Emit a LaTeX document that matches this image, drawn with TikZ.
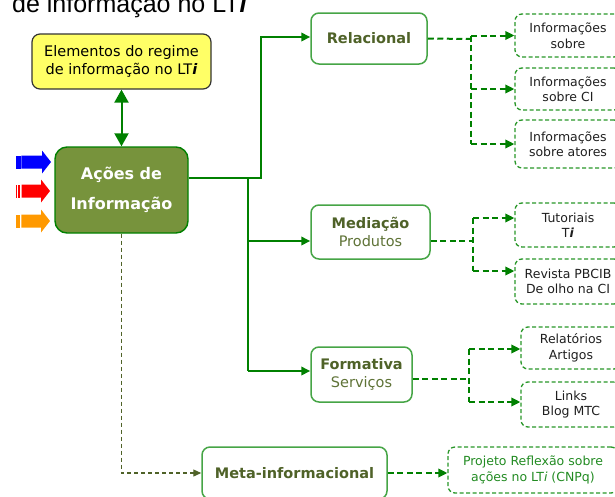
\documentclass[tikz,border=0pt]{standalone}
\usepackage{fontspec}
\setmainfont{DejaVu Sans}
\newfontfamily\titlefont{Liberation Sans}
\usetikzlibrary{arrows.meta,calc}
\definecolor{cgreen}{RGB}{0,128,0}
\definecolor{bgreen}{RGB}{70,165,70}
\definecolor{dgreen}{RGB}{40,150,40}
\definecolor{olivefill}{RGB}{119,147,60}
\definecolor{olivetext}{RGB}{79,98,40}
\definecolor{olivetext2}{RGB}{95,115,55}
\definecolor{yfill}{RGB}{255,255,102}
\definecolor{ptext}{RGB}{34,139,34}
\definecolor{arrorange}{RGB}{255,153,0}
\tikzset{
  sbox/.style={draw=bgreen, line width=1.5pt, rounded corners=8pt, fill=white, align=center,
    text=olivetext, inner sep=0pt, font=\fontsize{14.5}{18.5}\selectfont},
  dbox/.style={draw=dgreen, line width=1.3pt, dash pattern=on 4pt off 2.5pt, rounded corners=7pt,
    align=center, inner sep=0pt, text=black!88, font=\fontsize{12.5}{15.5}\selectfont},
  conn/.style={draw=cgreen, line width=2pt, -{Triangle[length=9pt,width=8.5pt]}},
  dline/.style={draw=cgreen, line width=2pt, dash pattern=on 6pt off 3.5pt},
  darrow/.style={dline, -{Triangle[length=9pt,width=8.5pt]}},
  odash/.style={draw=olivetext, line width=1.3pt, dash pattern=on 4pt off 3pt, -{Triangle[length=8pt,width=7pt]}},
}
\begin{document}
\begin{tikzpicture}[x=1pt,y=-1pt]
\useasboundingbox (0,0) rectangle (615,496);
\clip (0,0) rectangle (615,496);

% title (cut at top)
\node[anchor=base west, inner sep=0pt, font=\titlefont\fontsize{25}{30}\selectfont] (title) at (12,12)
  {de informação no LT\textbf{\textit{i}}};

% main boxes
\node[draw=black!80, line width=1.2pt, fill=yfill, rounded corners=8pt, align=center, inner sep=0pt,
  minimum width=179pt, minimum height=55pt, font=\fontsize{14.5}{18}\selectfont] (yel) at (121.5,61.5)
  {Elementos do regime\\de informação no LT\textbf{\textit{i}}};
\node[draw=cgreen, line width=1.4pt, fill=olivefill, rounded corners=12pt, align=center, inner sep=0pt,
  minimum width=133pt, minimum height=86pt, text=white, font=\fontsize{16}{30}\selectfont\bfseries] (act) at (121.5,190)
  {Ações de\\Informação};

\node[sbox, minimum width=116pt, minimum height=51pt] (rel) at (369,38.5) {\textbf{Relacional}};
\node[sbox, minimum width=119pt, minimum height=54pt] (med) at (370.5,232) {\textbf{Mediação}\\\textcolor{olivetext2}{Produtos}};
\node[sbox, minimum width=101pt, minimum height=55pt] (form) at (361.5,374.5) {\textbf{Formativa}\\\textcolor{olivetext2}{Serviços}};
\node[sbox, minimum width=185pt, minimum height=52pt] (meta) at (294.5,473) {\textbf{Meta-informacional}};

% dashed boxes
\node[dbox, minimum width=106pt, minimum height=43pt] (r1) at (568,35.5) {Informações\\sobre};
\node[dbox, minimum width=106pt, minimum height=42pt] (r2) at (568,89) {Informações\\sobre CI};
\node[dbox, minimum width=106pt, minimum height=48pt] (r3) at (568,144) {Informações\\sobre atores};
\node[dbox, minimum width=106pt, minimum height=44pt] (m1) at (568,225) {Tutoriais\\T\textbf{\textit{i}}};
\node[dbox, minimum width=106pt, minimum height=45pt] (m2) at (568,281.5) {Revista PBCIB\\De olho na CI};
\node[dbox, minimum width=100pt, minimum height=42pt] (f1) at (571,348) {Relatórios\\Artigos};
\node[dbox, minimum width=100pt, minimum height=45pt] (f2) at (571,404.5) {Links\\Blog MTC};
\node[dbox, minimum width=170pt, minimum height=46pt, text=ptext] (p) at (533,470)
  {Projeto Reflexão sobre\\ações no LT\textit{i} (CNPq)};

% left block arrows
\fill[blue] (16,155.5) rectangle (20.5,168.5);
\fill[blue] (21.3,155.5) -- (42,155.5) -- (42,150.5) -- (51,162) -- (42,173.5) -- (42,168.5) -- (21.3,168.5) -- cycle;
\fill[red] (16,184.5) rectangle (17,197.5);
\fill[red] (17.7,184.5) rectangle (18.7,197.5);
\fill[red] (19.3,184.5) rectangle (20.3,197.5);
\fill[red] (21.6,184.5) -- (41,184.5) -- (41,179.5) -- (50,191) -- (41,202.5) -- (41,197.5) -- (21.6,197.5) -- cycle;
\fill[arrorange] (16,214.5) rectangle (20,227.5);
\fill[arrorange] (21.3,214.5) -- (41,214.5) -- (41,209.5) -- (50,221) -- (41,232.5) -- (41,227.5) -- (21.3,227.5) -- cycle;

% solid connectors
\draw[cgreen, line width=2pt, {Triangle[length=13pt,width=14pt]}-{Triangle[length=13pt,width=14pt]}] (yel.south) -- (act.north);
\coordinate (ja) at (261,178);
\coordinate (jb) at (248,178);
\draw[conn] ([yshift=12pt]act.east) -- (ja) |- ([yshift=1.5pt]rel.west);
\draw[cgreen, line width=2pt] (jb) -- (jb |- 0,371);
\draw[conn] (jb |- 0,241) -- ([yshift=-9pt]med.west);
\draw[conn] (jb |- 0,371) -- ([yshift=3.5pt]form.west);

% dashed connectors: Relacional
\coordinate (rj) at (471,39);
\draw[dline] (rel.east) -- (rj);
\draw[dline] (rj |- r1.west) -- (rj |- r3.west);
\draw[darrow] (rj |- r1.west) -- (r1.west);
\draw[darrow] (rj |- r2.west) -- (r2.west);
\draw[darrow] (rj |- r3.west) -- (r3.west);

% Mediação
\coordinate (mj) at (473,241);
\draw[dline] ([yshift=-9pt]med.east) -- (mj);
\draw[dline] (mj |- 0,218) -- (mj |- 0,271);
\draw[darrow] (mj |- 0,218) -- ([yshift=7pt]m1.west);
\draw[darrow] (mj |- 0,271) -- ([yshift=10.5pt]m2.west);

% Formativa
\coordinate (fj) at (469,379);
\draw[dline] ([yshift=-4.5pt]form.east) -- (fj);
\draw[dline] (fj |- 0,349) -- (fj |- 0,402);
\draw[darrow] (fj |- 0,349) -- ([yshift=-1pt]f1.west);
\draw[darrow] (fj |- 0,402) -- ([yshift=2.5pt]f2.west);

% Meta
\draw[darrow] (meta.east) -- (meta.east -| p.west);
\draw[odash] (act.south) |- (meta.west);

\end{tikzpicture}
\end{document}
